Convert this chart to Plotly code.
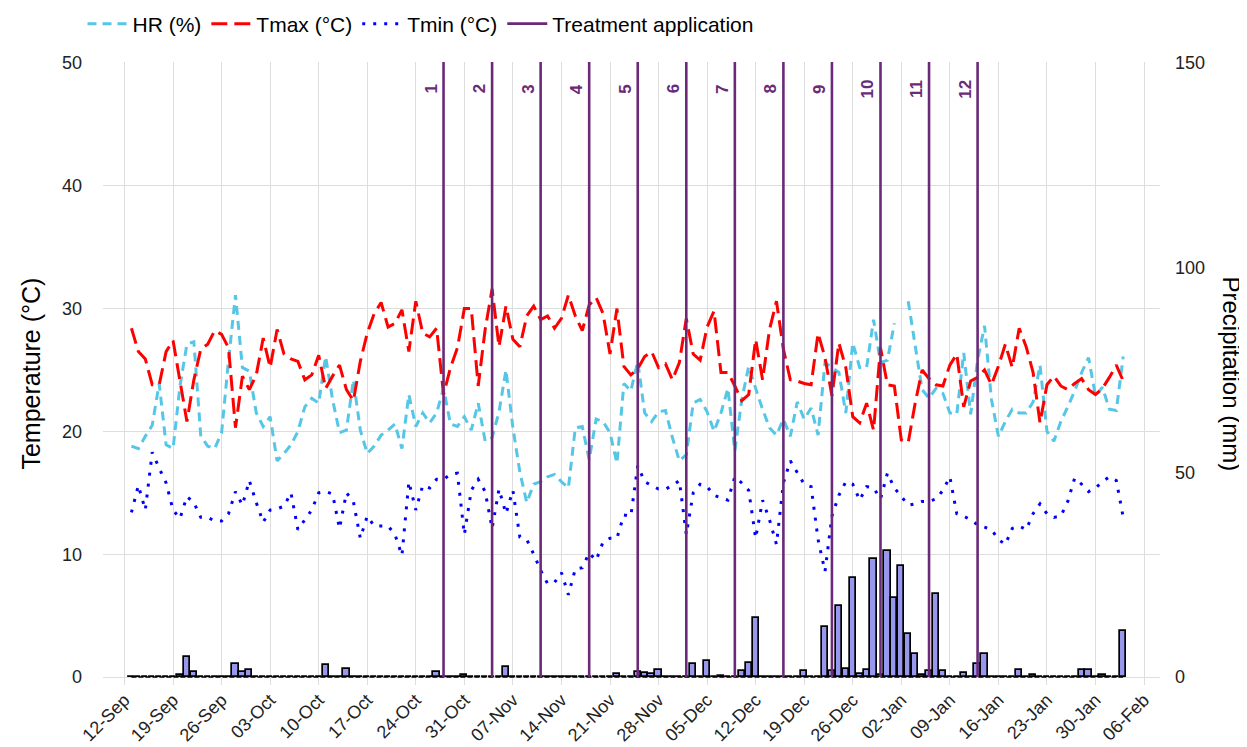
import pandas as pd
import plotly.graph_objects as go

# ---------------- data (daily, 13-Sep to 03-Feb) ----------------
first_day = "2021-09-13"
n_days = 144

hr = [18.8, 18.6, 19.6, 20.5, 23.9, 18.9, 18.6, 23.7, 27.1, 27.3,
      19.6, 18.8, 18.6, 19.9, 25.8, 31.1, 25.2, 24.9, 21.5, 20.4,
      21.2, 17.6, 18.2, 18.9, 20.0, 22.0, 22.7, 22.3, 26.1, 22.6,
      19.9, 20.1, 24.2, 20.1, 18.2, 18.8, 19.7, 20.1, 20.6, 18.6,
      23.0, 20.4, 21.5, 20.7, 21.5, 23.5, 20.6, 20.4, 21.2, 20.1,
      22.3, 19.2, 19.5, 21.6, 25.0, 20.3, 16.7, 14.2, 15.7, 15.9,
      16.3, 16.5, 15.9, 15.4, 20.3, 20.4, 17.7, 21.0, 20.8, 19.9,
      17.4, 23.9, 23.3, 25.7, 21.5, 20.8, 21.6, 21.7, 19.5, 17.6,
      18.1, 22.3, 22.6, 21.6, 20.0, 21.5, 23.5, 18.4, 22.6, 25.3,
      23.5, 21.8, 20.3, 19.7, 21.0, 19.6, 22.4, 21.0, 21.9, 19.7,
      25.6, 25.2, 24.8, 21.5, 27.2, 25.2, 25.2, 29.1, 25.6, 25.8,
      28.8, None, 30.6, 27.1, 23.4, 22.7, 23.5, 23.1, 21.5, 21.4,
      26.4, 21.4, 25.8, 28.6, 22.6, 19.6, 20.8, 21.8, 21.5, 21.5,
      22.4, 25.4, 20.0, 19.2, 20.8, 22.0, 23.3, 24.8, 26.0, 22.9,
      23.6, 21.8, 21.7, 26.1]

tmax = [28.4, 26.5, 25.9, 23.8, 23.8, 26.5, 27.4, 24.1, 20.8, 24.2,
        26.7, 27.1, 28.2, 27.9, 26.8, 20.3, 24.5, 23.4, 24.6, 27.6,
        25.2, 28.3, 26.3, 25.9, 25.7, 24.2, 24.6, 26.2, 23.5, 24.5,
        25.4, 23.4, 22.5, 25.7, 28.0, 29.6, 30.5, 28.5, 28.8, 29.9,
        26.5, 30.6, 28.0, 27.7, 28.4, 23.0, 25.2, 26.8, 30.0, 30.0,
        23.7, 28.3, 31.6, 26.9, 30.2, 27.5, 26.9, 29.4, 30.2, 29.1,
        29.4, 28.4, 29.2, 31.1, 29.4, 28.2, 30.3, 30.9, 29.6, 26.3,
        30.0, 25.3, 24.6, 25.1, 26.1, 26.5, 25.2, 25.5, 24.2, 25.6,
        29.2, 26.3, 25.8, 28.5, 29.8, 24.8, 24.8, 23.7, 22.5, 23.0,
        27.5, 24.2, 28.3, 30.6, 26.7, 24.2, 24.1, 23.9, 23.8, 28.0,
        26.0, 22.9, 27.2, 25.2, 21.2, 20.7, 22.3, 20.1, 26.8, 23.8,
        23.7, 19.3, 19.1, 22.3, 25.0, 24.3, 23.8, 23.7, 25.4, 26.3,
        22.0, 24.1, 24.4, 25.0, 23.8, 25.3, 27.1, 25.2, 28.4, 26.9,
        24.8, 20.7, 23.8, 24.5, 23.7, 23.4, 23.9, 24.3, 23.4, 23.0,
        23.5, 24.4, 25.4, 24.1]

tmin = [13.4, 15.6, 13.6, 18.3, 17.0, 15.8, 13.6, 12.9, 14.7, 14.2,
        13.0, 13.0, 12.7, 12.7, 13.3, 15.1, 14.0, 16.0, 14.2, 12.6,
        13.6, 13.7, 13.9, 15.0, 12.0, 12.8, 13.6, 15.0, 15.1, 14.9,
        12.1, 15.0, 14.3, 11.3, 13.1, 12.3, 12.3, 12.3, 11.6, 9.9,
        15.9, 13.6, 15.6, 15.4, 16.1, 16.1, 16.5, 16.6, 11.6, 15.2,
        16.1, 15.1, 12.1, 15.3, 13.3, 15.2, 11.4, 11.2, 10.0, 8.7,
        7.6, 7.7, 8.5, 6.7, 8.8, 8.9, 10.1, 9.5, 11.0, 11.3,
        11.3, 13.2, 13.1, 17.2, 15.9, 15.6, 15.3, 15.3, 15.6, 16.0,
        11.6, 15.0, 15.7, 15.5, 14.8, 14.6, 14.4, 16.3, 15.8, 15.2,
        11.3, 14.4, 12.8, 10.8, 15.8, 17.6, 16.7, 15.7, 15.5, 11.2,
        8.6, 13.1, 14.8, 15.9, 15.7, 14.4, 15.5, 15.4, 14.5, 16.6,
        15.4, 14.7, 14.0, 14.1, 14.3, 14.3, 14.5, 15.2, 16.3, 13.3,
        13.1, 12.8, 12.4, 12.2, 12.0, 11.2, 10.8, 12.1, 12.3, 12.0,
        13.3, 14.1, 13.3, 13.0, 13.1, 14.3, 16.2, 15.7, 15.1, 15.4,
        15.9, 16.3, 16.0, 13.0]

precip = [0.0, 0.0, 0.0, 0.0, 0.0, 0.0, 0.0, 0.5, 5.0, 1.3,
          0.0, 0.0, 0.0, 0.0, 0.0, 3.3, 1.2, 1.6, 0.0, 0.0,
          0.0, 0.0, 0.0, 0.0, 0.0, 0.0, 0.0, 0.0, 3.0, 0.0,
          0.0, 1.9, 0.0, 0.0, 0.0, 0.0, 0.0, 0.0, 0.0, 0.0,
          0.0, 0.0, 0.0, 0.0, 1.3, 0.0, 0.0, 0.0, 0.5, 0.0,
          0.0, 0.0, 0.0, 0.0, 2.4, 0.0, 0.0, 0.0, 0.0, 0.0,
          0.0, 0.0, 0.0, 0.0, 0.0, 0.0, 0.0, 0.0, 0.0, 0.0,
          0.7, 0.0, 0.0, 1.3, 1.1, 0.8, 1.6, 0.0, 0.0, 0.0,
          0.0, 3.3, 0.0, 4.0, 0.0, 0.3, 0.0, 0.0, 1.4, 3.5,
          14.4, 0.0, 0.0, 0.0, 0.0, 0.0, 0.0, 1.4, 0.0, 0.0,
          12.2, 1.5, 17.3, 1.9, 24.3, 0.8, 1.8, 28.9, 0.5, 30.8,
          19.2, 27.0, 10.4, 5.7, 0.5, 1.5, 20.4, 1.5, 0.0, 0.0,
          0.9, 0.0, 3.2, 5.7, 0.0, 0.0, 0.0, 0.0, 1.8, 0.0,
          0.6, 0.0, 0.0, 0.0, 0.0, 0.0, 0.0, 1.8, 1.8, 0.0,
          0.5, 0.0, 0.0, 11.3]

treatment_dates = ["2021-10-28", "2021-11-04", "2021-11-11", "2021-11-18",
                   "2021-11-25", "2021-12-02", "2021-12-09", "2021-12-16",
                   "2021-12-23", "2021-12-30", "2022-01-06", "2022-01-13"]
treatment_labels = [str(i) for i in range(1, 13)]

tick_dates = pd.date_range("2021-09-12", "2022-02-06", freq="7D")
tick_labels = [d.strftime("%d-%b") for d in tick_dates]

# ---------------- styling ----------------
FONT = "Liberation Sans, Arial, sans-serif"
C_HR = "#55C6E6"
C_TMAX = "#FF0000"
C_TMIN = "#0000FF"
C_TRT = "#6A2A78"
C_BAR = "#9797EE"
GRID = "#DDDDDD"
TICK_COLOR = "#222222"

Y_MAX = 50.08
Y_MIN = -0.65
Y2_MAX = Y_MAX * 3
Y2_MIN = Y_MIN * 3

dates = pd.date_range(first_day, periods=n_days, freq="D")
x0 = pd.Timestamp("2021-09-12")
x_range = [x0 - pd.Timedelta(days=3.1), x0 + pd.Timedelta(days=149.3)]

fig = go.Figure()

# precipitation bars (right axis)
fig.add_trace(go.Bar(
    x=dates, y=precip, yaxis="y2", width=0.9 * 86400000,
    marker=dict(color=C_BAR, line=dict(color="black", width=1.7)),
    showlegend=False, hoverinfo="skip"))

# zero-bar outlines (dashed baseline look)
fig.add_trace(go.Scatter(
    x=dates, y=[0 * p for p in precip], yaxis="y2", mode="lines",
    line=dict(color="black", width=1.3, dash="5px,2px"),
    showlegend=False, hoverinfo="skip"))

fig.add_trace(go.Scatter(
    x=dates, y=hr, mode="lines", name="HR (%)", legendrank=1,
    line=dict(color=C_HR, width=3, dash="9px,6px"), connectgaps=False))
fig.add_trace(go.Scatter(
    x=dates, y=tmax, mode="lines", name="Tmax (°C)", legendrank=2,
    line=dict(color=C_TMAX, width=3, dash="16px,7px")))
fig.add_trace(go.Scatter(
    x=dates, y=tmin, mode="lines", name="Tmin (°C)", legendrank=3,
    line=dict(color=C_TMIN, width=3, dash="3px,8px")))

# treatment application lines
tx, ty = [], []
for d in treatment_dates:
    tx += [d, d, None]
    ty += [0, Y2_MAX, None]
fig.add_trace(go.Scatter(
    x=tx, y=ty, yaxis="y2", mode="lines", name="Treatment application",
    legendrank=4, line=dict(color=C_TRT, width=2.6)))

annotations = []
for d, lab in zip(treatment_dates, treatment_labels):
    annotations.append(dict(
        x=d, y=0.9566, xref="x", yref="paper", text="<b>%s</b>" % lab,
        showarrow=False, textangle=-90, xshift=-13,
        xanchor="center", yanchor="middle",
        font=dict(family=FONT, size=17, color=C_TRT)))

annotations.append(dict(
    x=-0.069, y=0.5, xref="paper", yref="paper", text="Temperature (°C)",
    showarrow=False, textangle=-90, xanchor="center", yanchor="middle",
    font=dict(family=FONT, size=25, color="black")))
annotations.append(dict(
    x=1.0672, y=0.5, xref="paper", yref="paper", text="Precipitation (mm)",
    showarrow=False, textangle=90, xanchor="center", yanchor="middle",
    font=dict(family=FONT, size=24, color="black")))

# page body has an 8px margin, so the figure is drawn 8px smaller
fig.update_layout(
    width=1239, height=739,
    margin=dict(l=95, r=87, t=54, b=62, autoexpand=False),
    paper_bgcolor="white", plot_bgcolor="white",
    font=dict(family=FONT, size=18, color=TICK_COLOR),
    showlegend=True,
    legend=dict(orientation="h", x=-0.0194, y=1.061, xanchor="left",
                yanchor="middle", font=dict(family=FONT, size=21, color="black"),
                bgcolor="rgba(0,0,0,0)", itemwidth=40),
    xaxis=dict(range=x_range, tickmode="array", tickvals=tick_dates,
               ticktext=tick_labels, tickangle=-45, showgrid=True,
               gridcolor=GRID, gridwidth=1.4, zeroline=False, showline=False,
               ticks="", automargin=False,
               tickfont=dict(family=FONT, size=18, color=TICK_COLOR)),
    yaxis=dict(range=[Y_MIN, Y_MAX], tickvals=[0, 10, 20, 30, 40, 50],
               showgrid=True, gridcolor=GRID, gridwidth=1.4, zeroline=False,
               showline=False, ticks="", ticklabelstandoff=20, automargin=False,
               tickfont=dict(family=FONT, size=18, color=TICK_COLOR)),
    yaxis2=dict(range=[Y2_MIN, Y2_MAX], tickvals=[0, 50, 100, 150],
                overlaying="y", side="right", showgrid=False, zeroline=False,
                showline=False, ticks="", ticklabelstandoff=14, automargin=False,
                tickfont=dict(family=FONT, size=18, color=TICK_COLOR)),
    annotations=annotations,
    bargap=0,
)

fig.write_html("out.html")
